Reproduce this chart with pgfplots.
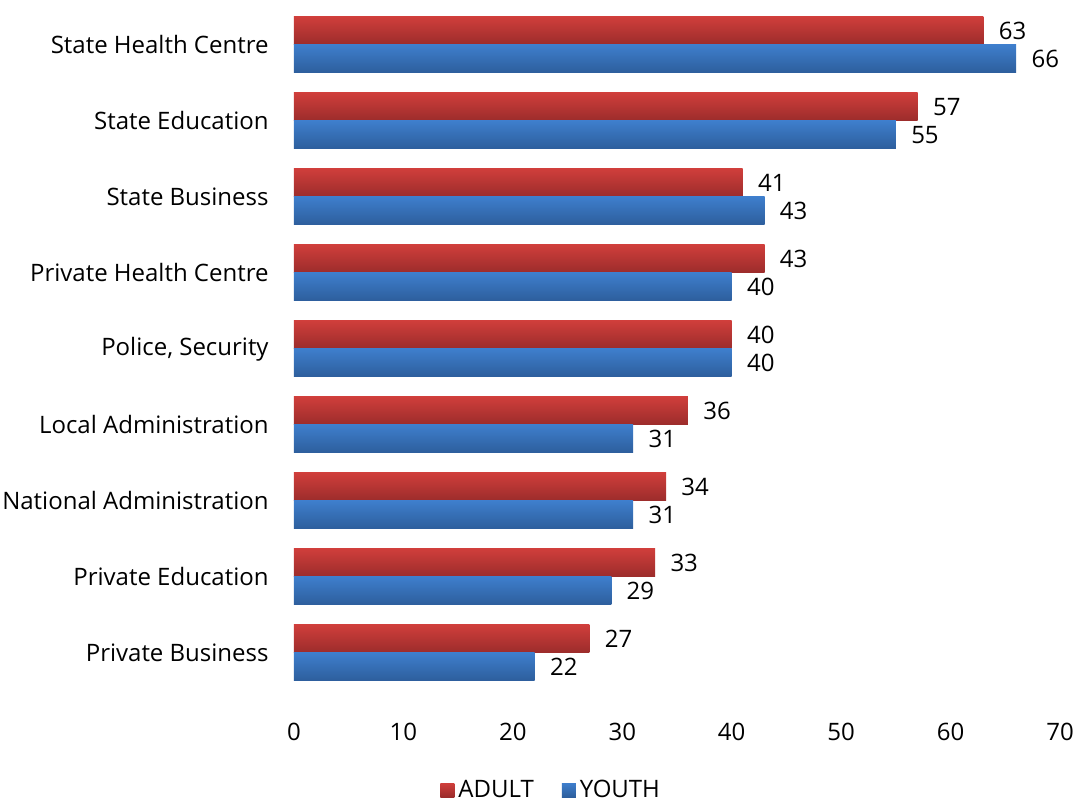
\documentclass[border=0pt]{standalone}
\usepackage{pgfplots}
\pgfplotsset{compat=1.18}
\usepackage{fontspec}
\setmainfont{Open Sans}
\definecolor{redtop}{RGB}{207,62,59}
\definecolor{redbot}{RGB}{155,44,43}
\definecolor{bluetop}{RGB}{62,126,204}
\definecolor{bluebot}{RGB}{45,94,156}
\pgfplotsset{
    adult/.style={draw=none, top color=redtop, bottom color=redbot, bar shift=7pt},
    youth/.style={draw=none, top color=bluetop, bottom color=bluebot, bar shift=-7pt},
}
\begin{document}
\begin{tikzpicture}
\begin{axis}[
    name=ax,
    scale only axis,
    width=383pt, height=342pt,
    xbar, bar width=14pt,
    xmin=0, xmax=70, xtick={0,10,...,70},
    ymin=-0.5, ymax=8.5, ytick={0,...,8},
    yticklabels={Private Business, Private Education, National Administration,
        Local Administration, {Police, Security}, Private Health Centre,
        State Business, State Education, State Health Centre},
    axis line style={draw=none},
    major tick length=0pt,
    font=\fontsize{12}{14}\selectfont,
    /pgf/number format/assume math mode=true,
    xticklabel style={anchor=north, inner sep=0pt, yshift=-16pt},
    yticklabel style={anchor=east, inner sep=0pt, xshift=-12.5pt},
    nodes near coords,
    nodes near coords style={anchor=west, inner sep=0pt, xshift=7.5pt},
    legend style={at={(axis description cs:0.337,-0.145)}, anchor=center,
        draw=none, legend columns=2,
        /tikz/every even column/.append style={column sep=12pt}},
    legend image code/.code={\path[#1] (0pt,-3.5pt) rectangle (7pt,3.5pt);},
]
% one plot per bar so that each bar gets its own shading
\addplot[adult] coordinates {(63,8)};
\addlegendentry{ADULT}
\addplot[youth] coordinates {(66,8)};
\addlegendentry{YOUTH}
\addplot[adult, forget plot] coordinates {(57,7)};
\addplot[youth, forget plot] coordinates {(55,7)};
\addplot[adult, forget plot] coordinates {(41,6)};
\addplot[youth, forget plot] coordinates {(43,6)};
\addplot[adult, forget plot] coordinates {(43,5)};
\addplot[youth, forget plot] coordinates {(40,5)};
\addplot[adult, forget plot] coordinates {(40,4)};
\addplot[youth, forget plot] coordinates {(40,4)};
\addplot[adult, forget plot] coordinates {(36,3)};
\addplot[youth, forget plot] coordinates {(31,3)};
\addplot[adult, forget plot] coordinates {(34,2)};
\addplot[youth, forget plot] coordinates {(31,2)};
\addplot[adult, forget plot] coordinates {(33,1)};
\addplot[youth, forget plot] coordinates {(29,1)};
\addplot[adult, forget plot] coordinates {(27,0)};
\addplot[youth, forget plot] coordinates {(22,0)};
\end{axis}
\pgfresetboundingbox
\path ([xshift=-147pt, yshift=-55.5pt]ax.south west)
    rectangle ([xshift=7pt, yshift=3.5pt]ax.north east);
\end{tikzpicture}
\end{document}
